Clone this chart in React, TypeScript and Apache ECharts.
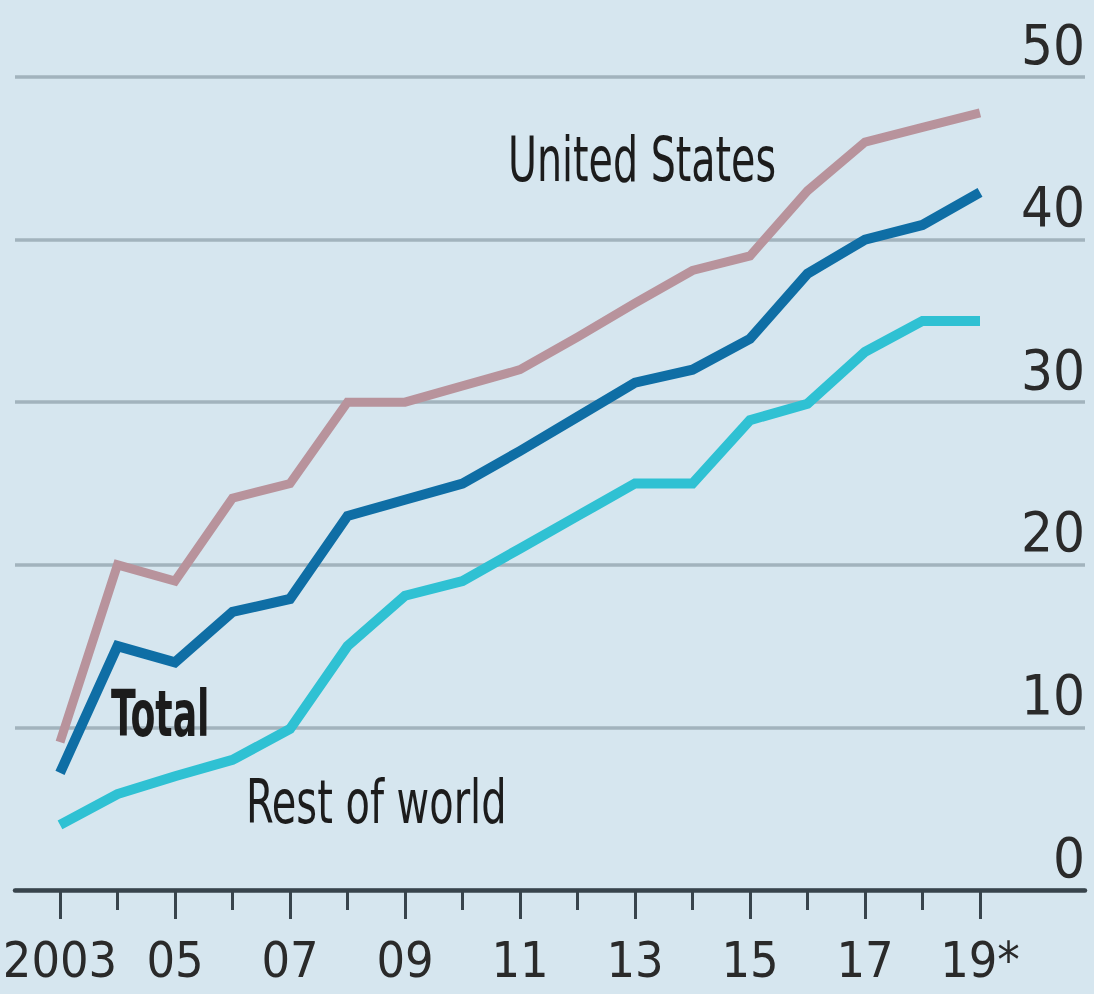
import React, { useEffect, useRef } from "react";
import * as echarts from "echarts";

const years = [2003, 2004, 2005, 2006, 2007, 2008, 2009, 2010, 2011, 2012, 2013, 2014, 2015, 2016, 2017, 2018, 2019];
const unitedStates = [9.1, 20.0, 19.0, 24.1, 25.0, 30.0, 30.0, 31.0, 32.0, 34.0, 36.1, 38.1, 39.0, 43.0, 46.0, 46.9, 47.8];
const total = [7.2, 15.0, 14.0, 17.1, 17.9, 23.0, 24.0, 25.0, 27.0, 29.1, 31.2, 32.0, 33.9, 37.9, 40.0, 40.9, 42.9];
const restOfWorld = [4.0, 5.9, 7.0, 8.0, 9.9, 15.0, 18.1, 19.0, 21.0, 23.0, 25.0, 25.0, 28.9, 29.9, 33.1, 35.0, 35.0];
const majorTickYears = [2003, 2005, 2007, 2009, 2011, 2013, 2015, 2017, 2019];
const minorTickYears = [2004, 2006, 2008, 2010, 2012, 2014, 2016, 2018];
const yMin = 0;
const yMax = 50;
const yInterval = 10;

const FONT = "'Liberation Sans Narrow', 'DejaVu Sans Condensed', 'Noto Sans', sans-serif";
const AXIS_DARK = "#38444c";

function yearLabel(v: number): string {
  if (v === 2003) return "2003";
  const s = String(v % 100).padStart(2, "0");
  return v === 2019 ? s + "*" : s;
}

export default function App() {
  const ref = useRef<HTMLDivElement>(null);
  useEffect(() => {
    if (!ref.current) return;
    const chart = echarts.init(ref.current, undefined, { renderer: "svg" });
    const pairs = (vals: number[]) => years.map((y, i) => [y, vals[i]]);
    const xMin = 2003 - 45 / 57.5;
    const xMax = 2019 + 105 / 57.5;
    chart.setOption({
      animation: false,
      backgroundColor: "#d6e6ef",
      grid: { left: 15, right: 9, top: 77, bottom: 104, outerBoundsMode: "none" },
      xAxis: [
        {
          type: "value",
          position: "bottom",
          min: xMin,
          max: xMax,
          splitLine: { show: false },
          axisLine: { show: true, lineStyle: { color: AXIS_DARK, width: 4.5 } },
          axisTick: {
            show: true,
            customValues: majorTickYears,
            length: 29,
            lineStyle: { color: AXIS_DARK, width: 3 },
          },
          axisLabel: {
            show: true,
            customValues: majorTickYears,
            formatter: (v: number) => yearLabel(v),
            fontFamily: FONT,
            fontSize: 50,
            color: "#2a2a2a",
            margin: 45,
          },
        },
        {
          type: "value",
          position: "bottom",
          min: xMin,
          max: xMax,
          splitLine: { show: false },
          axisLine: { show: false },
          axisTick: {
            show: true,
            customValues: minorTickYears,
            length: 20,
            lineStyle: { color: AXIS_DARK, width: 3 },
          },
          axisLabel: { show: false },
        },
      ],
      yAxis: {
        type: "value",
        position: "right",
        min: yMin,
        max: yMax,
        interval: yInterval,
        axisLine: { show: false },
        axisTick: { show: false },
        splitLine: { show: true, lineStyle: { color: "#a2b3bd", width: 3.5 } },
        axisLabel: {
          inside: true,
          margin: 0,
          verticalAlign: "bottom",
          align: "right",
          padding: [0, 0, 5, 0],
          fontFamily: FONT,
          fontSize: 56,
          color: "#2a2a2a",
        },
      },
      series: [
        {
          name: "United States",
          type: "line",
          data: pairs(unitedStates),
          showSymbol: false,
          symbol: "none",
          lineStyle: { color: "#b8939c", width: 9, cap: "butt", join: "miter" },
          z: 3,
        },
        {
          name: "Total",
          type: "line",
          data: pairs(total),
          showSymbol: false,
          symbol: "none",
          lineStyle: { color: "#0f6ea5", width: 10, cap: "butt", join: "miter" },
          z: 4,
        },
        {
          name: "Rest of world",
          type: "line",
          data: pairs(restOfWorld),
          showSymbol: false,
          symbol: "none",
          lineStyle: { color: "#2fc1d3", width: 10, cap: "butt", join: "miter" },
          z: 3,
        },
      ],
      graphic: [
        {
          type: "text",
          x: 508,
          y: 160,
          scaleX: 0.71,
          style: { text: "United States", fontFamily: FONT, fontSize: 62, fill: "#1c1c1c", verticalAlign: "middle", align: "left" },
          z: 10,
        },
        {
          type: "text",
          x: 111,
          y: 714,
          scaleX: 0.63,
          style: { text: "Total", fontFamily: FONT, fontSize: 64, fontWeight: "bold", fill: "#1c1c1c", verticalAlign: "middle", align: "left" },
          z: 10,
        },
        {
          type: "text",
          x: 246,
          y: 802,
          scaleX: 0.74,
          style: { text: "Rest of world", fontFamily: FONT, fontSize: 60, fill: "#1c1c1c", verticalAlign: "middle", align: "left" },
          z: 10,
        },
      ],
    });
    return () => chart.dispose();
  }, []);
  return <div ref={ref} style={{ position: "absolute", left: 0, top: 0, width: 1094, height: 994 }} />;
}
